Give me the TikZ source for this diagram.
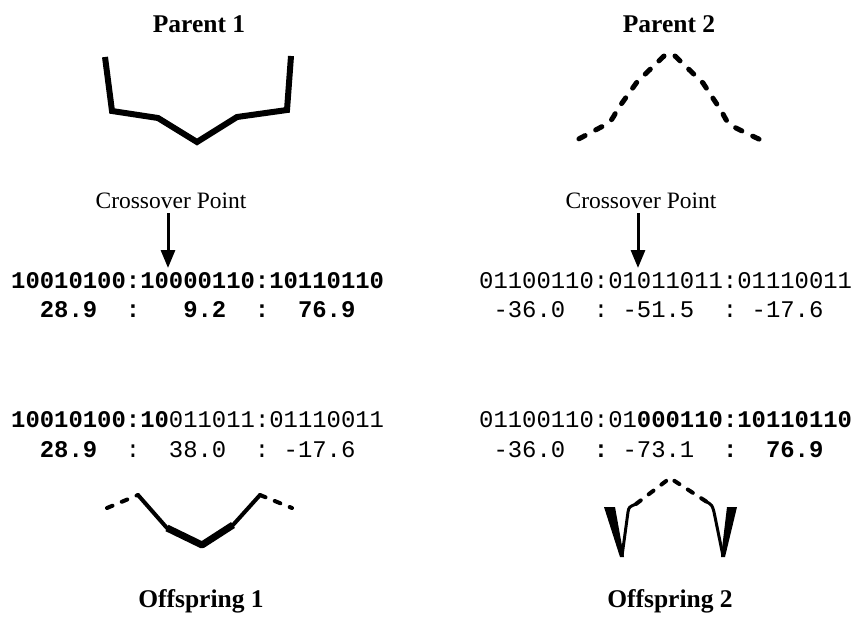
\documentclass[tikz,border=0pt]{standalone}
\usepackage{fontspec}
\setmainfont{Liberation Serif}
\setmonofont{Liberation Mono}
\usetikzlibrary{arrows.meta}

\begin{document}
\begin{tikzpicture}[x=1pt, y=-1pt,
  hdr/.style={font=\fontsize{25.5}{26}\selectfont\bfseries, inner sep=0pt, anchor=base},
  xlbl/.style={font=\fontsize{23.5}{24}\selectfont, inner sep=1pt, anchor=base},
  bits/.style={font=\fontsize{23.9}{24}\selectfont\ttfamily, inner sep=0pt, anchor=base west},
  solidln/.style={line width=6pt, line join=miter},
  dashln/.style={line width=5pt, line cap=round, dash pattern=on 7pt off 12pt},
  thindash/.style={line width=4pt, line cap=round, dash pattern=on 6pt off 10pt},
  xarr/.style={line width=3pt, shorten <=4pt, -{Triangle[length=18pt,width=14pt]}}
]
\useasboundingbox (0,0) rectangle (862,618);
% Headings
\node[hdr] (par1) at (199,33) {Parent 1};
\node[hdr] (par2) at (669,33) {Parent 2};
\node[hdr] (off1) at (201,607) {Offspring 1};
\node[hdr] (off2) at (670,607) {Offspring 2};
% Parent 1 (solid)
\draw[solidln] (105,57) -- (112,111) -- (158,118) -- (197,142) -- (237,117) -- (287,110) -- (291,56);
% Parent 2 (dashed)
\draw[dashln] (664,56) -- (637,82) -- (617,110) .. controls (612,120) .. (605,125) -- (573,142);
\draw[dashln] (675,56) -- (703,83) -- (722,112) .. controls (728,124) .. (740,130) -- (767,143);
% Crossover points
\node[xlbl] (xo1) at (171,208) {Crossover Point};
\node[xlbl] (xo2) at (641,208) {Crossover Point};
\coordinate (cut1) at (168,268);
\coordinate (cut2) at (638,268);
\draw[xarr] (xo1.south -| cut1) -- (cut1);
\draw[xarr] (xo2.south -| cut2) -- (cut2);
% Parent strings
\node[bits] (p1bin) at (11,288) {\bfseries 10010100:10000110:10110110};
\node[bits] (p1val) at (11,317) {\bfseries ~~28.9~~:~~~9.2~~:~~76.9};
\node[bits] (p2bin) at (479,288) {01100110:01011011:01110011};
\node[bits] (p2val) at (479,317) {~-36.0~~:~-51.5~~:~-17.6};
% Offspring strings
\node[bits] (o1bin) at (11,427) {\textbf{10010100:10}011011:01110011};
\node[bits] (o1val) at (11,457) {~~\textbf{28.9}~~:~~38.0~~:~-17.6};
\node[bits] (o2bin) at (479,427) {01100110:01\textbf{000110:10110110}};
\node[bits] (o2val) at (479,457) {~-36.0~~\textbf{:}~-73.1~~\textbf{:}~~\textbf{76.9}};
% Offspring 1
\draw[thindash] (107,508) -- (138,495);
\draw[thindash] (260,495) -- (292,508);
\draw[line width=4pt, line cap=round] (138,495) -- (167,528);
\draw[line width=4pt, line cap=round] (233,525) -- (260,495);
\draw[line width=7pt, line join=round] (167,528) -- (202,545) -- (233,525);
% Offspring 2
\fill (604,507) -- (615,507) -- (624,557) -- (620,557) -- cycle;
\draw[line width=3pt] (622,556) -- (628,512) .. controls (629,507) .. (636,504);
\draw[thindash] (636,504) -- (670,478) -- (707,502);
\draw[line width=3pt] (707,502) .. controls (712,505) .. (714,512) -- (723,556);
\fill (721,557) -- (725,557) -- (737,507) -- (727,507) -- cycle;
\end{tikzpicture}
\end{document}
